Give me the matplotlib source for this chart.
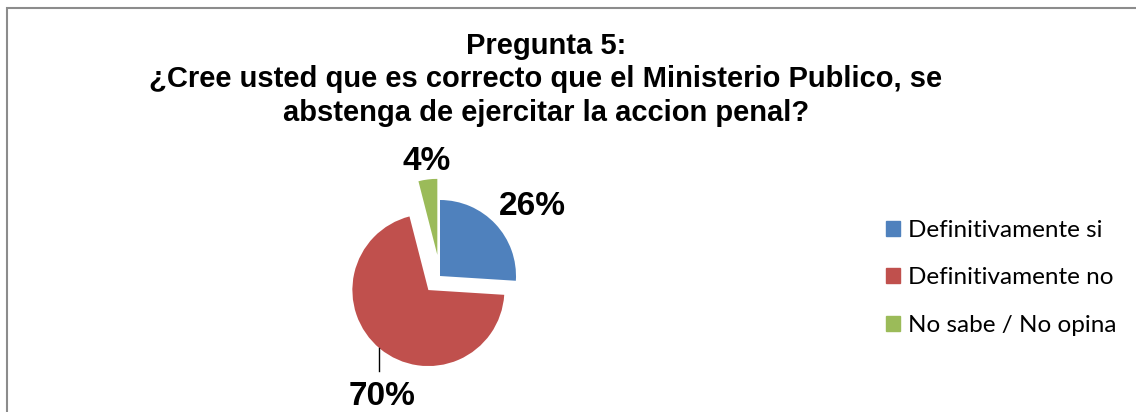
import numpy as np
import matplotlib
matplotlib.use("Agg")
import matplotlib.pyplot as plt
from matplotlib.patches import Rectangle

# Data
categories = ["Definitivamente si", "Definitivamente no", "No sabe / No opina"]
percent = [26, 70, 4]
colors = ["#4F81BD", "#C0504D", "#9BBB59"]
explode = [0.0, 0.24, 0.28]

title = ("Pregunta 5:\n¿Cree usted que es correcto que el Ministerio Publico, se\n"
         "abstenga de ejercitar la accion penal?")

W, H = 1136, 412
fig = plt.figure(figsize=(W / 100, H / 100), dpi=100)

# outer chart frame (only top and left edges are visible in the crop)
fig.patches.append(Rectangle((7 / W, -0.1), 1.2, (H - 8) / H + 0.1,
                             transform=fig.transFigure, fill=False,
                             edgecolor="#8c8c8c", linewidth=1.5))

fig.text(546 / W, 1 - 32 / H, title, ha="center", va="top", fontsize=21,
         fontweight="bold", family="Liberation Sans", linespacing=1.24)

# pie axes: centre at pixel (440, 276), radius 76 px
cx, cy, r = 440, 276, 76
ax = fig.add_axes([(cx - 2 * r) / W, (H - cy - 2 * r) / H, 4 * r / W, 4 * r / H])
ax.axis("off")

wedges, _ = ax.pie(percent, colors=colors, explode=explode, startangle=90,
                   counterclock=False, radius=1,
                   wedgeprops=dict(linewidth=0))
ax.set_xlim(-2, 2)
ax.set_ylim(-2, 2)
ax.set_aspect("equal")

# label layout (distance, angle) from the pie centre, same order as data
label_pos = [(1.53, 37), (1.76, -115.5), (1.51, 96.5)]
for p, (d, a) in zip(percent, label_pos):
    t = np.deg2rad(a)
    ax.text(d * np.cos(t), d * np.sin(t), f"{p}%", ha="center", va="center",
            fontsize=24, fontweight="bold", family="Liberation Sans")

# leader line for the 70% label
ax.plot([-0.80, -0.80], [-0.95, -1.25], color="black", linewidth=1)

handles = [Rectangle((0, 0), 1, 1, color=c) for c in colors]
fig.legend(handles, categories, loc="center left",
           bbox_to_anchor=(886 / W, 1 - 278 / H), frameon=False,
           borderaxespad=0, borderpad=0,
           prop=dict(family="Lato", size=17.5), handlelength=0.58,
           handleheight=0.58, handletextpad=0.33, labelspacing=1.08)

fig.savefig("out.png", dpi=100)
